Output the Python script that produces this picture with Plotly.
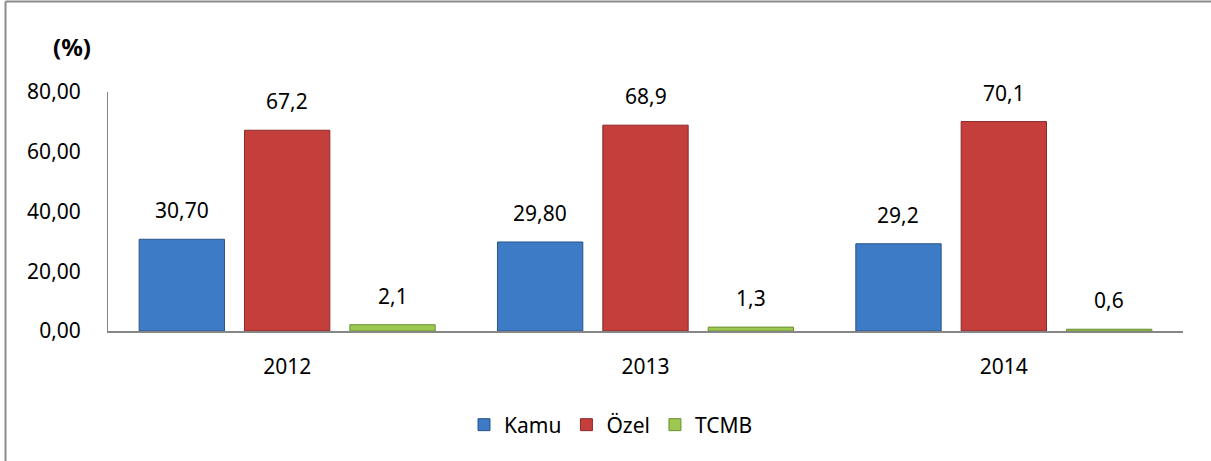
import plotly.graph_objects as go

years = ["2012", "2013", "2014"]
series_names = ["Kamu", "Özel", "TCMB"]
kamu = [30.70, 29.80, 29.2]
ozel = [67.2, 68.9, 70.1]
tcmb = [2.1, 1.3, 0.6]
kamu_labels = ["30,70", "29,80", "29,2"]
ozel_labels = ["67,2", "68,9", "70,1"]
tcmb_labels = ["2,1", "1,3", "0,6"]
y_ticks = [0, 20, 40, 60, 80]

FONT = "Noto Sans"
W, H = 1211, 461
ML, MR, MT, MB = 108, 28, 92, 130

colors = ["#3E7BC6", "#C43E3B", "#9CC850"]
borders = ["#2A5587", "#8A2A28", "#6C8E35"]

fig = go.Figure()
all_vals = [kamu, ozel, tcmb]
all_labels = [kamu_labels, ozel_labels, tcmb_labels]
for name, vals, c, b in zip(series_names, all_vals, colors, borders):
    fig.add_trace(go.Bar(
        x=years, y=vals, name=name,
        marker=dict(color=c, line=dict(color=b, width=1)),
    ))

plot_w = W - ML - MR
plot_h = H - MT - MB
slot = plot_w / len(years) * (1 - 0.118) / 3
annotations = []
for i, (vals, labs) in enumerate(zip(all_vals, all_labels)):
    for j, (v, lab) in enumerate(zip(vals, labs)):
        annotations.append(dict(
            x=j, y=v, xref="x", yref="y", text=lab, showarrow=False,
            yanchor="bottom", xshift=(i - 1) * slot, yshift=13,
            font=dict(family=FONT, size=21, color="#000000"),
        ))

annotations.append(dict(
    x=(72 - ML) / plot_w, y=(H - MB - 46) / plot_h, xref="paper", yref="paper",
    xanchor="center", yanchor="middle",
    text="<b>(%)</b>", showarrow=False, font=dict(family=FONT, size=24, color="#000000"),
))

fig.update_layout(
    width=W, height=H,
    margin=dict(l=ML, r=MR, t=MT, b=MB),
    paper_bgcolor="white", plot_bgcolor="white",
    separators=",.",
    barmode="group", bargap=0.118, bargroupgap=0.19,
    font=dict(family=FONT, size=21, color="#000000"),
    showlegend=True,
    legend=dict(orientation="h", x=(611 - ML) / plot_w, xanchor="center",
                y=(H - MB - 425) / plot_h, yanchor="middle",
                font=dict(family=FONT, size=21), itemwidth=30, tracegroupgap=0),
    annotations=annotations,
    xaxis=dict(type="category", range=[-0.5, 2.5], showline=True, linecolor="#868686",
               linewidth=2, ticks="", ticklabelstandoff=16, showgrid=False,
               tickfont=dict(family=FONT, size=21)),
    yaxis=dict(range=[0, 80], tickvals=y_ticks, tickformat=".2f",
               showline=True, linecolor="#868686", linewidth=1, ticks="",
               showgrid=False, zeroline=False, ticklabelstandoff=22,
               tickfont=dict(family=FONT, size=21)),
    shapes=[
        dict(type="line", xref="paper", yref="paper",
             x0=(5.5 - ML) / plot_w, x1=(5.5 - ML) / plot_w,
             y0=(H - MB - 461) / plot_h, y1=(H - MB - 1.5) / plot_h,
             line=dict(color="#8C8C8C", width=2)),
        dict(type="line", xref="paper", yref="paper",
             x0=(5.5 - ML) / plot_w, x1=(1211 - ML) / plot_w,
             y0=(H - MB - 1.5) / plot_h, y1=(H - MB - 1.5) / plot_h,
             line=dict(color="#8C8C8C", width=2)),
    ],
)

fig.write_html("out.html", config={"displayModeBar": False},
               post_script="document.body.style.margin='0';")
